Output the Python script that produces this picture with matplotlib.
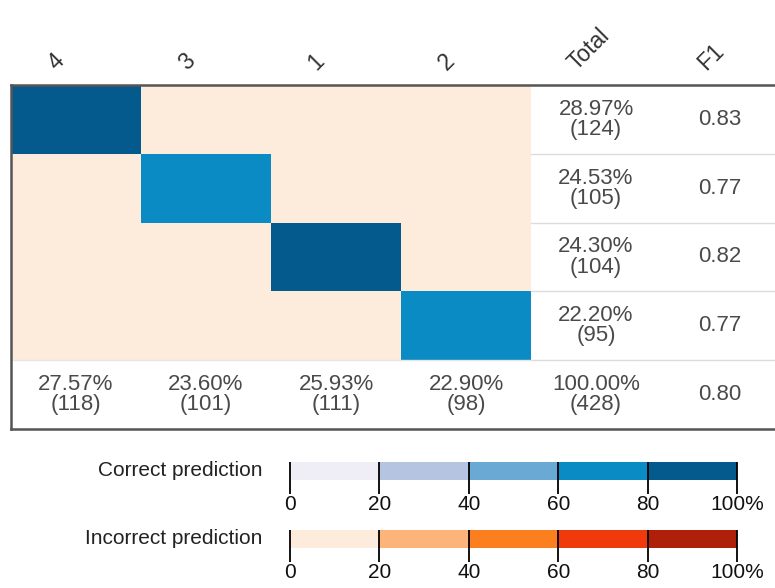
import numpy as np
import matplotlib
matplotlib.use("Agg")
import matplotlib.pyplot as plt
from matplotlib.colors import ListedColormap, BoundaryNorm
from matplotlib.cm import ScalarMappable

plt.rcParams['font.family'] = ['Liberation Sans', 'DejaVu Sans']

# ---------------- data ----------------
classes = ["4", "3", "1", "2"]
header_extra = ["Total", "F1"]
# confusion counts (rows = true class, cols = predicted class); off-diagonals estimated
counts = np.array([
    [100, 10, 6, 8],
    [7, 79, 10, 9],
    [5, 4, 88, 7],
    [6, 8, 7, 74],
])
row_pct = [28.97, 24.53, 24.30, 22.20]
row_n = [124, 105, 104, 95]
col_pct = [27.57, 23.60, 25.93, 22.90]
col_n = [118, 101, 111, 98]
total_pct = 100.00
total_n = 428
f1_rows = [0.83, 0.77, 0.82, 0.77]
f1_total = 0.80

bounds = [0, 20, 40, 60, 80, 100]
bound_labels = ["0", "20", "40", "60", "80", "100%"]
blues = ["#efedf5", "#b5c4e0", "#69a9d3", "#0a8bc3", "#045a8d"]
oranges = ["#fdebdc", "#fdb47a", "#fb7e1f", "#ef3b0b", "#ae200a"]

# ---------------- figure ----------------
W, H = 775, 588
fig = plt.figure(figsize=(W / 100, H / 100), dpi=100)

ax = fig.add_axes([11 / W, 1 - 429 / H, 764 / W, 344 / H])
ncol_units = 764 / 130
ax.set_xlim(0, ncol_units)
ax.set_ylim(5, 0)

pct_mat = counts / np.array(row_n)[:, None] * 100
diag = np.eye(4, dtype=bool)
cmap_c = ListedColormap(blues)
cmap_i = ListedColormap(oranges)
norm = BoundaryNorm(bounds, 5)

xe = np.arange(5)
ye = np.arange(5)
ax.pcolormesh(xe, ye, np.ma.masked_where(~diag, pct_mat), cmap=cmap_c, norm=norm)
ax.pcolormesh(xe, ye, np.ma.masked_where(diag, pct_mat), cmap=cmap_i, norm=norm)

txt_col = "#4a4a4a"
fs = 16
for i in range(4):
    ax.text(4.5, i + 0.5, f"{row_pct[i]:.2f}%\n({row_n[i]})", ha="center", va="center",
            fontsize=fs, color=txt_col, linespacing=0.95)
    ax.text(5.45, i + 0.5, f"{f1_rows[i]:.2f}", ha="center", va="center",
            fontsize=fs, color=txt_col)
for j in range(4):
    ax.text(j + 0.5, 4.5, f"{col_pct[j]:.2f}%\n({col_n[j]})", ha="center", va="center",
            fontsize=fs, color=txt_col, linespacing=0.95)
ax.text(4.5, 4.5, f"{total_pct:.2f}%\n({total_n})", ha="center", va="center",
        fontsize=fs, color=txt_col, linespacing=0.95)
ax.text(5.45, 4.5, f"{f1_total:.2f}", ha="center", va="center", fontsize=fs, color=txt_col)

# separators
for r in range(1, 5):
    ax.plot([4, ncol_units], [r, r], color="#dcdcdc", lw=1.0, zorder=1)
ax.plot([0, 4], [4, 4], color="#e6e6e6", lw=1.0, zorder=1)

# headers
for j, lab in enumerate(classes + header_extra):
    ax.text(j + 0.5 - 24 / 130, -19 / 68.8, lab, rotation=45, rotation_mode="anchor",
            ha="left", va="center", fontsize=16.5, color="#333333", clip_on=False)

ax.set_xticks([])
ax.set_yticks([])
for s in ["top", "left", "bottom"]:
    ax.spines[s].set_color("#555555")
    ax.spines[s].set_linewidth(1.8)
ax.spines["right"].set_visible(False)

# ---------------- colour keys ----------------
def key(bottom_px, colors, label):
    cax = fig.add_axes([290 / W, 1 - bottom_px / H, 447 / W, 18 / H])
    sm = ScalarMappable(norm=BoundaryNorm(bounds, 5), cmap=ListedColormap(colors))
    cb = fig.colorbar(sm, cax=cax, orientation="horizontal")
    cb.outline.set_visible(False)
    cb.set_ticks(bounds)
    cb.set_ticklabels(bound_labels)
    cax.tick_params(axis="x", length=10, width=1.3, direction="out", color="black",
                    labelsize=15, pad=1, labelcolor="#111111")
    cax.vlines(bounds, 0, 1, colors="black", lw=1.3, clip_on=False)
    cax.text(-28 / 447, 0.5, label, transform=cax.transAxes, ha="right", va="center",
             fontsize=15, color="#222222")

key(480, blues, "Correct prediction")
key(548, oranges, "Incorrect prediction")

fig.savefig("out.png", dpi=100, facecolor="white")
